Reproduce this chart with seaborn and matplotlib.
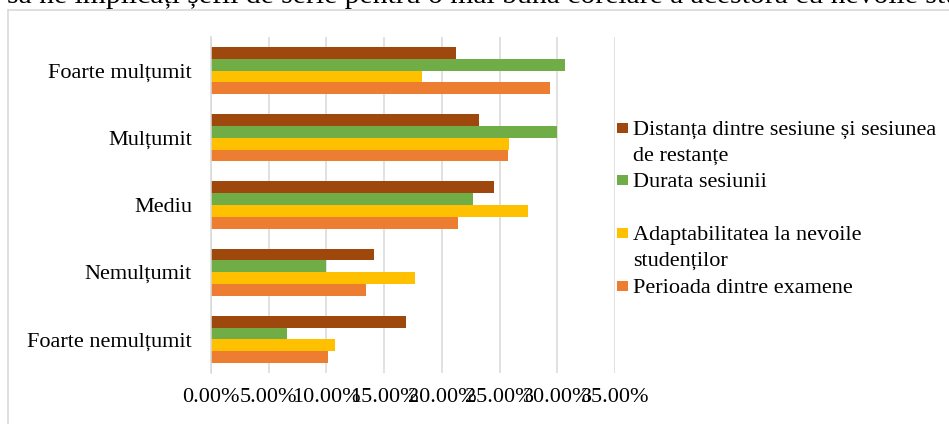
import matplotlib
matplotlib.use("Agg")
import matplotlib.pyplot as plt
from matplotlib.lines import Line2D
from matplotlib.patches import Rectangle
import numpy as np
import pandas as pd
import seaborn as sns

# ---------------- data ----------------
categories = ["Foarte mulțumit", "Mulțumit", "Mediu", "Nemulțumit", "Foarte nemulțumit"]
series_names = [
    "Distanța dintre sesiune și sesiunea\nde restanțe",
    "Durata sesiunii",
    "Adaptabilitatea la nevoile\nstudenților",
    "Perioada dintre examene",
]
distanta = [21.2, 23.25, 24.5, 14.1, 16.9]
durata = [30.7, 30.0, 22.7, 10.0, 6.6]
adaptabilitate = [18.3, 25.85, 27.5, 17.7, 10.7]
perioada = [29.4, 25.7, 21.4, 13.4, 10.1]
colors = ["#9E480E", "#70AD47", "#FFC000", "#ED7D31"]
x_ticks = [0, 5, 10, 15, 20, 25, 30, 35]
x_tick_labels = ["0.00%", "5.00%", "10.00%", "15.00%", "20.00%", "25.00%", "30.00%", "35.00%"]
header = "să ne implicați șefii de serie pentru o mai bună corelare a acestora cu nevoile studenților"

values = [distanta, durata, adaptabilitate, perioada]
rows = []
for name, vals in zip(series_names, values):
    for cat, v in zip(categories, vals):
        rows.append({"cat": cat, "series": name, "val": v})
df = pd.DataFrame(rows)

# ---------------- style ----------------
sns.set_theme(style="white")
plt.rcParams["font.family"] = ["Liberation Serif", "DejaVu Serif"]

W, H = 949, 424
fig = plt.figure(figsize=(W / 100, H / 100), dpi=100)
fig.patch.set_facecolor("white")

ax_left, ax_right, ax_top, ax_bottom = 211, 615, 37, 373
ax = fig.add_axes([ax_left / W, 1 - ax_bottom / H, (ax_right - ax_left) / W, (ax_bottom - ax_top) / H])

sns.barplot(
    data=df, y="cat", x="val", hue="series",
    order=categories, hue_order=series_names,
    palette=colors, saturation=1, width=0.7, orient="h",
    errorbar=None, legend=False, linewidth=0, ax=ax,
)

ax.set_xlim(0, 35)
ax.set_xticks(x_ticks)
ax.set_xticklabels(x_tick_labels, fontsize=16, color="black")
ax.set_yticks(range(len(categories)))
ax.set_yticklabels(categories, fontsize=16, color="black")
ax.set_xlabel("")
ax.set_ylabel("")
ax.grid(axis="x", color="#d9d9d9", linewidth=1.1)
ax.grid(axis="y", visible=False)
ax.set_axisbelow(True)
for s in ["top", "right", "bottom"]:
    ax.spines[s].set_visible(False)
ax.spines["left"].set_color("#d9d9d9")
ax.spines["left"].set_linewidth(1.1)
ax.tick_params(axis="x", length=0, pad=11)
ax.tick_params(axis="y", length=0, pad=13.7)

# ---------------- chart border ----------------
fig.add_artist(Line2D([8 / W, 1], [1 - 10 / H, 1 - 10 / H], transform=fig.transFigure,
                      color="#d9d9d9", linewidth=1.2))
fig.add_artist(Line2D([8 / W, 8 / W], [0, 1 - 10 / H], transform=fig.transFigure,
                      color="#d9d9d9", linewidth=1.2))

# ---------------- header text (document line cropped at the top) ----------------
fig.text(7 / W, 1 - 2.8 / H, header, fontsize=21.3, color="black", va="baseline", ha="left")

# ---------------- legend (manual, Excel-like) ----------------
first_baselines = [135, 187, 240, 293]
line_step = 26
for name, col, base in zip(series_names, colors, first_baselines):
    fig.add_artist(Rectangle((617 / W, 1 - (base - 2) / H), 10.5 / W, 10.5 / H,
                             transform=fig.transFigure, facecolor=col, edgecolor="none"))
    for i, line in enumerate(name.split("\n")):
        fig.text(633 / W, 1 - (base + i * line_step) / H, line, fontsize=16,
                 color="black", va="baseline", ha="left")

fig.savefig("out.png", dpi=100)
